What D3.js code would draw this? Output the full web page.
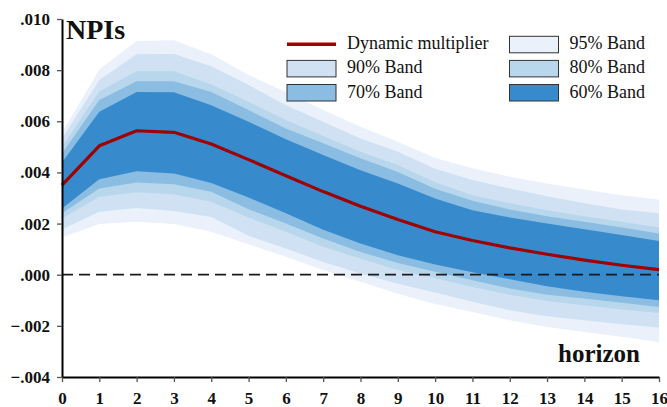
<!DOCTYPE html>
<html>
<head>
<meta charset="utf-8">
<script src="https://cdn.jsdelivr.net/npm/d3@7/dist/d3.min.js"></script>
<style>
  html, body { margin: 0; padding: 0; background: #fff; }
  svg { display: block; }
  svg text { font-family: 'Liberation Serif', 'Times New Roman', Tinos, 'DejaVu Serif', 'Noto Serif', Times, serif !important; fill: #111; }
</style>
</head>
<body>
<svg id="chart" width="667" height="407"></svg>
<script>
// ---- data ----
const horizon = [0,1,2,3,4,5,6,7,8,9,10,11,12,13,14,15,16];
const multiplier = [0.00350,0.00504,0.00563,0.00557,0.00511,0.00450,0.00387,0.00325,0.00268,0.00216,0.00168,0.00134,0.00105,0.00080,0.00057,0.00037,0.00020];
const band95Upper = [0.00555,0.00803,0.00914,0.00917,0.00862,0.00781,0.00715,0.00644,0.00579,0.00520,0.00456,0.00416,0.00383,0.00357,0.00333,0.00311,0.00294];
const band95Lower = [0.00146,0.00198,0.00207,0.00198,0.00168,0.00119,0.00070,0.00018,-0.00028,-0.00074,-0.00115,-0.00146,-0.00178,-0.00204,-0.00224,-0.00243,-0.00263];
const band90Upper = [0.00533,0.00761,0.00862,0.00863,0.00815,0.00742,0.00663,0.00598,0.00533,0.00481,0.00414,0.00370,0.00337,0.00307,0.00279,0.00255,0.00240];
const band90Lower = [0.00178,0.00246,0.00261,0.00249,0.00226,0.00152,0.00103,0.00050,0.00005,-0.00035,-0.00070,-0.00106,-0.00139,-0.00162,-0.00178,-0.00194,-0.00206];
const band80Upper = [0.00500,0.00716,0.00796,0.00796,0.00744,0.00676,0.00605,0.00542,0.00481,0.00429,0.00362,0.00311,0.00279,0.00252,0.00229,0.00207,0.00185];
const band80Lower = [0.00220,0.00305,0.00322,0.00315,0.00285,0.00224,0.00168,0.00109,0.00063,0.00018,-0.00014,-0.00048,-0.00078,-0.00103,-0.00119,-0.00136,-0.00150];
const band70Upper = [0.00474,0.00683,0.00757,0.00757,0.00715,0.00644,0.00572,0.00514,0.00455,0.00402,0.00336,0.00289,0.00255,0.00229,0.00207,0.00185,0.00161];
const band70Lower = [0.00240,0.00337,0.00361,0.00354,0.00324,0.00256,0.00200,0.00142,0.00089,0.00046,0.00012,-0.00022,-0.00054,-0.00078,-0.00093,-0.00110,-0.00126];
const band60Upper = [0.00439,0.00637,0.00715,0.00714,0.00663,0.00598,0.00530,0.00468,0.00409,0.00357,0.00298,0.00252,0.00224,0.00200,0.00178,0.00155,0.00132];
const band60Lower = [0.00259,0.00373,0.00405,0.00396,0.00359,0.00302,0.00240,0.00176,0.00122,0.00076,0.00040,0.00010,-0.00018,-0.00045,-0.00067,-0.00084,-0.00100];
const yTicks = [-0.004,-0.002,0.000,0.002,0.004,0.006,0.008,0.010];
const bandNames = ["95% Band","90% Band","80% Band","70% Band","60% Band"];
const bandColors = ["#eaf1fb","#cfe1f2","#b8d7ec","#8bbde3","#378bcc"];
const lineColor = "#a00000";

const FONT = "'Liberation Serif', 'Times New Roman', Tinos, 'DejaVu Serif', 'Noto Serif', Times, serif";

// ---- layout ----
const svg = d3.select("#chart");
const x = d3.scaleLinear().domain([0,16]).range([62,659]);
const y = d3.scaleLinear().domain([-0.004,0.010]).range([377,19]);

const bands = [
  {name: bandNames[0], color: bandColors[0], up: band95Upper, lo: band95Lower},
  {name: bandNames[1], color: bandColors[1], up: band90Upper, lo: band90Lower},
  {name: bandNames[2], color: bandColors[2], up: band80Upper, lo: band80Lower},
  {name: bandNames[3], color: bandColors[3], up: band70Upper, lo: band70Lower},
  {name: bandNames[4], color: bandColors[4], up: band60Upper, lo: band60Lower}
];

const area = d3.area()
  .x(d => x(d.h)).y0(d => y(d.lo)).y1(d => y(d.up))
  .curve(d3.curveLinear);

bands.forEach(b => {
  const pts = horizon.map((h,i) => ({h, up: b.up[i], lo: b.lo[i]}));
  svg.append("path").attr("d", area(pts)).attr("fill", b.color).attr("stroke", "none");
});

// zero line
svg.append("line")
  .attr("x1", x(0)).attr("x2", x(16))
  .attr("y1", y(0)).attr("y2", y(0))
  .attr("stroke", "#1a1a1a").attr("stroke-width", 1.8)
  .attr("stroke-dasharray", "11,6");

// multiplier line
const line = d3.line().x((d,i) => x(horizon[i])).y(d => y(d)).curve(d3.curveLinear);
svg.append("path").attr("d", line(multiplier))
  .attr("fill", "none").attr("stroke", lineColor).attr("stroke-width", 3.2)
  .attr("stroke-linejoin", "round");

// axes
const fmt = v => d3.format(".3f")(v).replace("0.", ".");
const yAxis = svg.append("g").attr("transform", "translate(62,0)")
  .call(d3.axisLeft(y).tickValues(yTicks).tickFormat(fmt).tickSize(5).tickPadding(7).tickSizeOuter(0));
const xAxis = svg.append("g").attr("transform", "translate(0,377)")
  .call(d3.axisBottom(x).tickValues(horizon).tickFormat(d3.format("d")).tickSize(5).tickPadding(10).tickSizeOuter(0));

[yAxis, xAxis].forEach(g => {
  g.attr("font-family", FONT);
  g.select(".domain").attr("stroke", "#000").attr("stroke-width", 2);
  g.selectAll(".tick line").attr("stroke", "#555").attr("stroke-width", 1.3);
  g.selectAll(".tick text")
    .attr("fill", "#111")
    .attr("font-family", FONT)
    .style("font-size", "17px").style("font-weight", "bold");
});

// titles
svg.append("text").attr("x", 66).attr("y", 39).attr("font-family", FONT)
  .style("font-size", "28px").style("font-weight", "bold").text("NPIs");
svg.append("text").attr("x", 640).attr("y", 362).attr("text-anchor", "end").attr("font-family", FONT)
  .style("font-size", "25px").style("font-weight", "bold").text("horizon");

// legend
const legendItems = [
  {type: "line", label: "Dynamic multiplier", color: lineColor, col: 0, row: 0},
  {type: "rect", label: bandNames[0], color: bandColors[0], col: 1, row: 0},
  {type: "rect", label: bandNames[1], color: bandColors[1], col: 0, row: 1},
  {type: "rect", label: bandNames[2], color: bandColors[2], col: 1, row: 1},
  {type: "rect", label: bandNames[3], color: bandColors[3], col: 0, row: 2},
  {type: "rect", label: bandNames[4], color: bandColors[4], col: 1, row: 2}
];
const colX = [287, 509.5];
const rowY = [44.3, 68.4, 92.5];
const lg = svg.append("g");
legendItems.forEach(it => {
  const x0 = colX[it.col], cy = rowY[it.row];
  if (it.type === "line") {
    lg.append("line").attr("x1", x0).attr("x2", x0 + 49).attr("y1", cy).attr("y2", cy)
      .attr("stroke", it.color).attr("stroke-width", 3.6);
  } else {
    lg.append("rect").attr("x", x0).attr("y", cy - 8).attr("width", 49).attr("height", 16.5)
      .attr("fill", it.color).attr("stroke", "#333").attr("stroke-width", 1);
  }
  lg.append("text").attr("x", x0 + 60).attr("y", cy + 5).attr("font-family", FONT)
    .style("font-size", "18px").text(it.label);
});
</script>
</body>
</html>
